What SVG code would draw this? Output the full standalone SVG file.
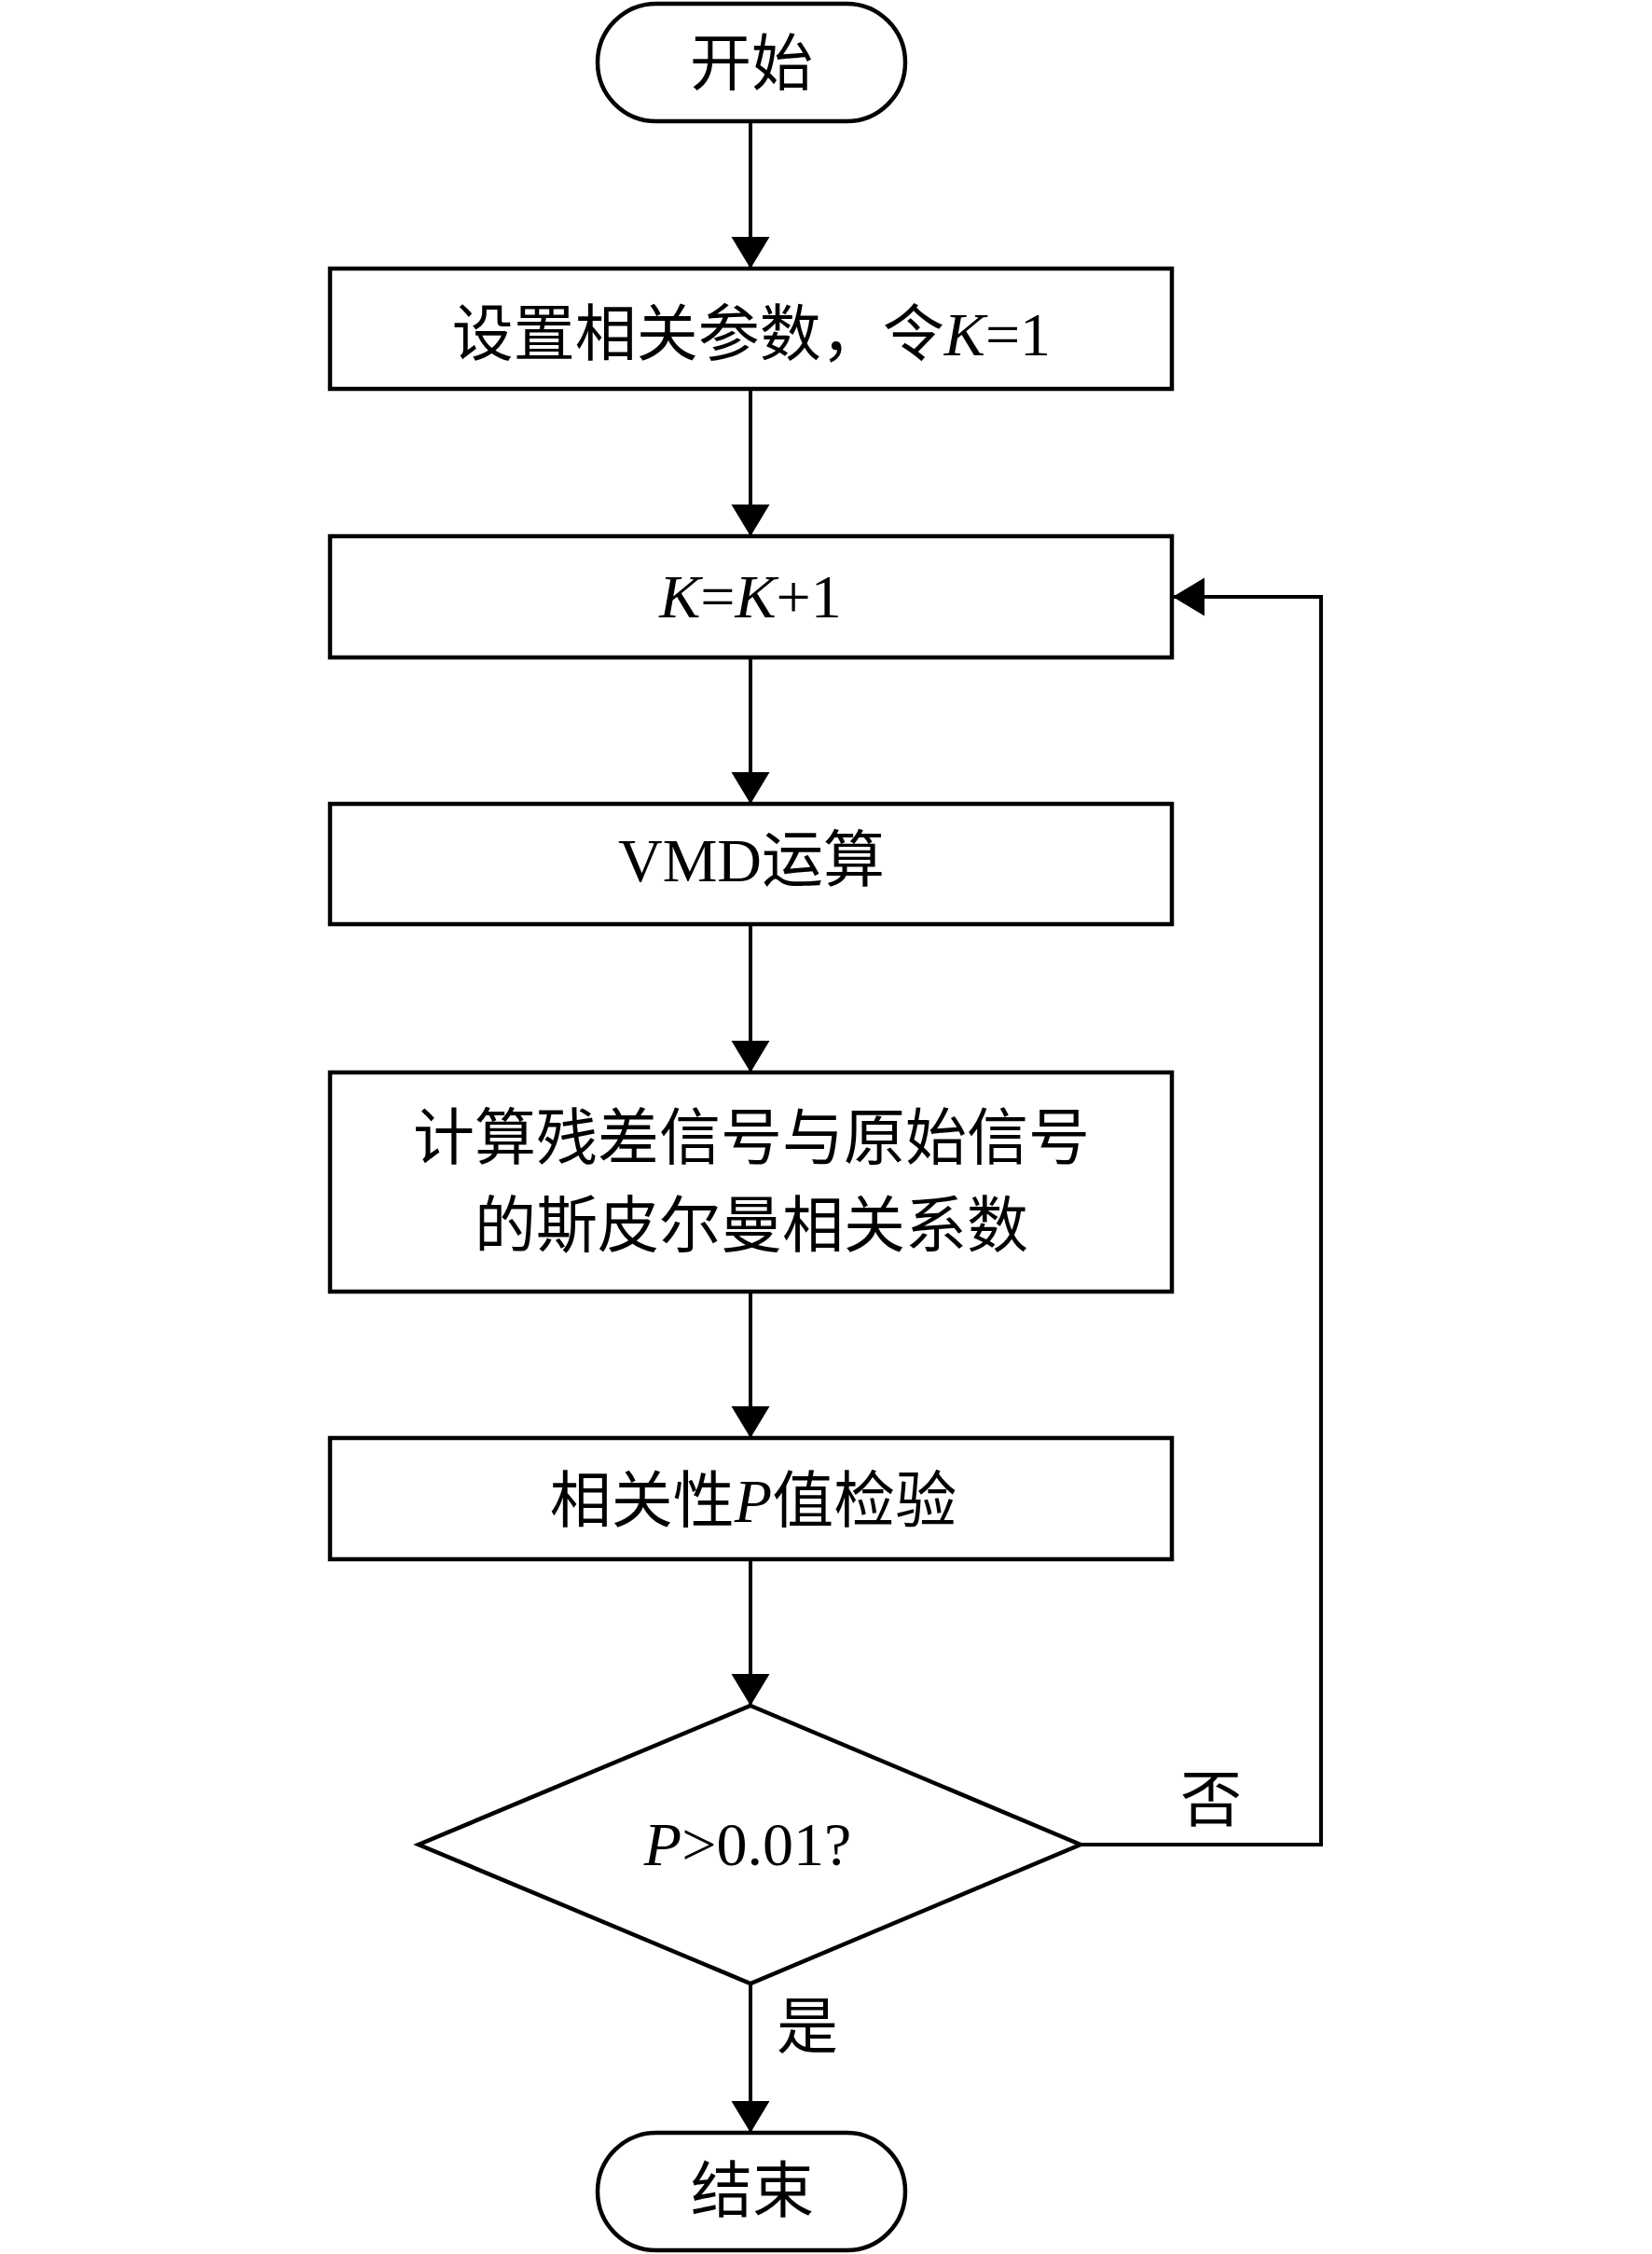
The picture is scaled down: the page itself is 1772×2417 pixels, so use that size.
<svg xmlns="http://www.w3.org/2000/svg" width="1772" height="2417" viewBox="0 0 1772 2417">
<style>
.shape{fill:#fff;stroke:#000;stroke-width:4.5}
.conn{fill:none;stroke:#000;stroke-width:4}
.t{font-family:"Liberation Serif","Noto Sans CJK SC",serif;font-size:66px;fill:#000;text-anchor:middle}
.i{font-style:italic}
</style>
<defs>
<marker id="arr" markerUnits="userSpaceOnUse" markerWidth="36" markerHeight="42" refX="34" refY="20.5" orient="auto">
<path d="M0,0 L34,20.5 L0,41 z" fill="#000"/>
</marker>
</defs>
<rect width="1772" height="2417" fill="#fff"/>
<g id="connectors">
<line class="conn" x1="805" y1="130" x2="805" y2="288" marker-end="url(#arr)"/>
<line class="conn" x1="805" y1="417" x2="805" y2="575" marker-end="url(#arr)"/>
<line class="conn" x1="805" y1="705" x2="805" y2="862" marker-end="url(#arr)"/>
<line class="conn" x1="805" y1="991" x2="805" y2="1150" marker-end="url(#arr)"/>
<line class="conn" x1="805" y1="1385" x2="805" y2="1542" marker-end="url(#arr)"/>
<line class="conn" x1="805" y1="1672" x2="805" y2="1829" marker-end="url(#arr)"/>
<line class="conn" x1="805" y1="2127" x2="805" y2="2287" marker-end="url(#arr)"/>
<polyline class="conn" points="1159,1978 1417,1978 1417,640 1258,640" marker-end="url(#arr)"/>
<text class="t" x="1299" y="1953">否</text>
<text class="t" x="866" y="2196">是</text>
</g>
<g id="start">
<rect class="shape" x="641" y="4" width="330" height="126" rx="63" ry="63"/>
<text class="t" x="806" y="91">开始</text>
</g>
<g id="setup">
<rect class="shape" x="354" y="288" width="903" height="129"/>
<text class="t" x="806" y="381">设置相关参数，令<tspan class="i">K</tspan>=1</text>
</g>
<g id="increment">
<rect class="shape" x="354" y="575" width="903" height="130"/>
<text class="t" x="805" y="662"><tspan class="i">K</tspan>=<tspan class="i">K</tspan>+1</text>
</g>
<g id="vmd">
<rect class="shape" x="354" y="862" width="903" height="129"/>
<text class="t" x="806" y="945">VMD运算</text>
</g>
<g id="spearman">
<rect class="shape" x="354" y="1150" width="903" height="235"/>
<text class="t" x="806" y="1243">计算残差信号与原始信号</text>
<text class="t" x="806" y="1337">的斯皮尔曼相关系数</text>
</g>
<g id="ptest">
<rect class="shape" x="354" y="1542" width="903" height="130"/>
<text class="t" x="808" y="1632">相关性<tspan class="i">P</tspan>值检验</text>
</g>
<g id="decision">
<polygon class="shape" points="805,1829 1159,1978 805,2127 449,1978"/>
<text class="t" x="802" y="2000"><tspan class="i">P</tspan>&gt;0.01?</text>
</g>
<g id="end">
<rect class="shape" x="641" y="2287" width="330" height="126" rx="63" ry="63"/>
<text class="t" x="807" y="2372">结束</text>
</g>
</svg>
